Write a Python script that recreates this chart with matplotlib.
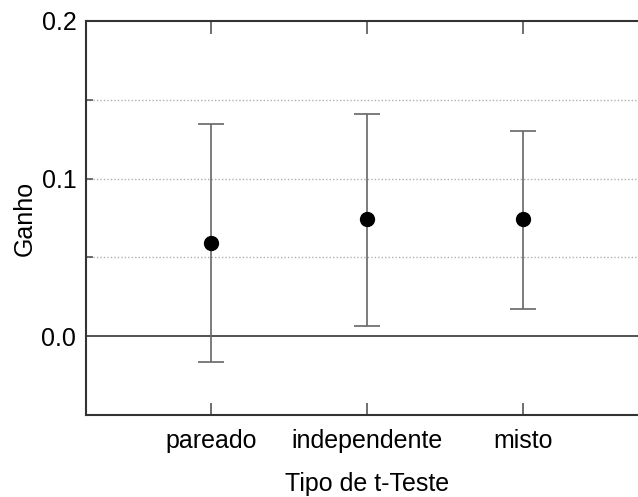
import matplotlib
matplotlib.use("Agg")
import matplotlib.pyplot as plt
import numpy as np

categories = ["pareado", "independente", "misto"]
means = [0.059, 0.0743, 0.0743]
upper = [0.1346, 0.141, 0.130]
lower = [-0.0165, 0.0063, 0.0171]
yticks = [0.0, 0.1, 0.2]
ytick_labels = ["0.0", "0.1", "0.2"]

plt.rcParams['font.family'] = ['Liberation Sans', 'DejaVu Sans']

W, H = 638, 497
fig = plt.figure(figsize=(W/100, H/100), dpi=100)
# axes: left 86px, top 21px, bottom 415px, right spine beyond image (648px)
ax = fig.add_axes([86/W, 1-415/H, (648-86)/W, (415-21)/H])

x = np.arange(1, len(categories)+1)
m = np.array(means)
yerr = np.vstack([m - np.array(lower), np.array(upper) - m])

for g in [0.05, 0.1, 0.15]:
    ax.axhline(g, color='#b0b0b0', lw=1, ls=(0, (1, 1.5)), zorder=1)
ax.axhline(0, color='#333333', lw=1.2, zorder=1)

ax.errorbar(x, m, yerr=yerr, fmt='o', color='black', ms=10,
            ecolor='#666666', elinewidth=1.2, capsize=9.5, capthick=1.2, zorder=3)

ax.set_xlim(0.2, 3.8)
ax.set_ylim(-0.05, 0.2)
ax.set_xticks(x)
ax.set_xticklabels(categories, fontsize=18)
ax.set_yticks(yticks)
ax.set_yticklabels(ytick_labels, fontsize=18)
ax.set_yticks([-0.05, 0.05, 0.15], minor=True)

ax.tick_params(axis='x', direction='in', length=9, width=1.2, color='#555555',
               top=True, bottom=True, pad=10)
ax.tick_params(axis='y', which='major', direction='in', length=5, width=1.2,
               color='#555555', pad=7)
ax.tick_params(axis='y', which='minor', direction='in', length=5, width=1.2,
               color='#555555')

for s in ax.spines.values():
    s.set_color('#333333')
    s.set_linewidth(1.5)

ax.set_xlabel("Tipo de t-Teste", fontsize=18, labelpad=14)
ax.set_ylabel("Ganho", fontsize=18, labelpad=3)

fig.savefig("out.png", dpi=100)
